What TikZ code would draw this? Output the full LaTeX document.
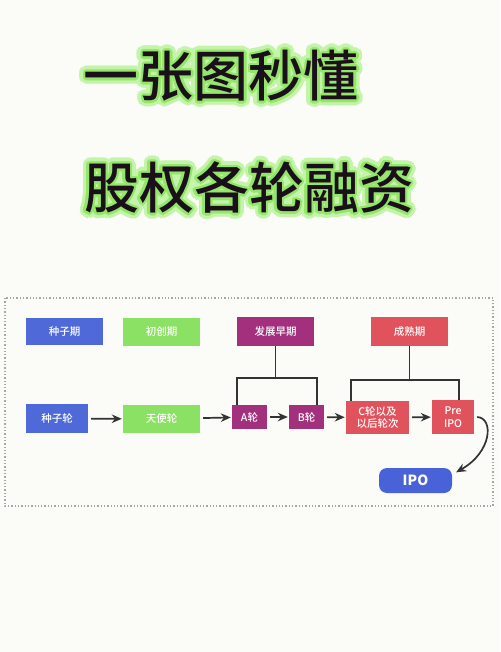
\documentclass[tikz,border=0pt]{standalone}
\usepackage{fontspec}
\setmainfont{Noto Sans CJK SC}
\newfontfamily\titlefont{Noto Sans CJK SC}[UprightFont={* Medium}]
\usepackage{xcolor}
\usepackage{tikz}
\usetikzlibrary{shapes.geometric, arrows, arrows.meta}
\usetikzlibrary{calc,positioning}

\definecolor{pagebg}{HTML}{FBFCF8}
\definecolor{glowout}{HTML}{C4F4AA}
\definecolor{glowin}{HTML}{94E668}
\definecolor{titleink}{HTML}{1A0F1A}
\definecolor{seedblue}{HTML}{4F69D9}
\definecolor{angelgreen}{HTML}{8BE163}
\definecolor{earlyplum}{HTML}{A2307C}
\definecolor{maturered}{HTML}{E0535C}
\definecolor{ipoblue}{HTML}{4A62D8}
\definecolor{darkline}{HTML}{333333}

\tikzset{
  titletext/.style={font=\titlefont\fontsize{55}{60}\selectfont, inner sep=0pt},
  stagebox/.style={rectangle, inner sep=0pt, text=white, align=center,
    font=\titlefont\fontsize{10.5}{12.5}\selectfont},
  roundbox/.style={stagebox, rounded corners=8pt, font=\bfseries\fontsize{14}{16}\selectfont},
  link/.style={line width=1.7pt, draw=darkline},
  flow/.style={link, -{Stealth[length=10pt, width=8.5pt]}, shorten <=3pt, shorten >=1pt},
}

\begin{document}
\begin{tikzpicture}[x=1pt, y=-1pt]

    \useasboundingbox[fill=pagebg] (0,0) rectangle (500,652);

    % Title with glow
    \foreach \a in {0,20,...,340} {
        \node[titletext, text=glowout, shift={(\a:6)}] at (221,76) {一张图秒懂};
        \node[titletext, text=glowout, shift={(\a:6)}] at (249,187.5) {股权各轮融资};
    }
    \foreach \a in {0,30,...,330} {
        \node[titletext, text=glowin, shift={(\a:2.5)}] at (221,76) {一张图秒懂};
        \node[titletext, text=glowin, shift={(\a:2.5)}] at (249,187.5) {股权各轮融资};
    }
    \node[titletext, text=titleink] (title1) at (221,76) {一张图秒懂};
    \node[titletext, text=titleink] (title2) at (249,187.5) {股权各轮融资};

    % Frame
    \draw[gray!70, dotted, line width=1.3pt] (5,298) rectangle (493,506);

    % Stages
    \node[stagebox, fill=seedblue, minimum width=77pt, minimum height=27pt] (seedstage) at (64.5,331.5) {种子期};
    \node[stagebox, fill=angelgreen, minimum width=77pt, minimum height=28pt] (startstage) at (161.5,332) {初创期};
    \node[stagebox, fill=earlyplum, minimum width=77pt, minimum height=29pt] (earlystage) at (275.5,331.5) {发展早期};
    \node[stagebox, fill=maturered, minimum width=77pt, minimum height=29pt] (maturestage) at (409.5,331.5) {成熟期};

    % Rounds
    \node[stagebox, fill=seedblue, minimum width=62pt, minimum height=29pt] (seed) at (57,418.5) {种子轮};
    \node[stagebox, fill=angelgreen, minimum width=77pt, minimum height=28pt] (angel) at (161.5,419) {天使轮};
    \node[stagebox, fill=earlyplum, minimum width=35pt, minimum height=24pt] (ra) at (249.5,417) {A轮};
    \node[stagebox, fill=earlyplum, minimum width=35pt, minimum height=24pt] (rb) at (306.5,417) {B轮};
    \node[stagebox, fill=maturered, minimum width=63pt, minimum height=33pt] (rc) at (377.5,417.5) {C轮以及\\以后轮次};
    \node[stagebox, fill=maturered, minimum width=42pt, minimum height=34pt] (pre) at (453,417) {Pre\\IPO};
    \node[roundbox, fill=ipoblue, minimum width=73pt, minimum height=25pt] (ipo) at (415.5,480.5) {IPO};

    % Brackets
    \draw[link] (earlystage.south) -- (earlystage.south |- 0,378);
    \draw[link] ([xshift=5pt]ra.north west) |- (317,378) -- (317,405);
    \draw[link] (maturestage.south) -- (maturestage.south |- 0,380);
    \draw[link] ([xshift=5pt]rc.north west) |- (459,380) -- (459,400);

    % Arrows
    \draw[flow] (seed) -- (angel);
    \draw[flow] (angel) -- (ra);
    \draw[flow] (ra) -- (rb);
    \draw[flow] (rb) -- (rc);
    \draw[flow] (rc) -- (pre);
    \draw[flow, shorten <=0pt] ([xshift=3pt]pre.east) .. controls (494,418) and (492,452) .. ([xshift=3pt,yshift=-5pt]ipo.north east);
\end{tikzpicture}
\end{document}
